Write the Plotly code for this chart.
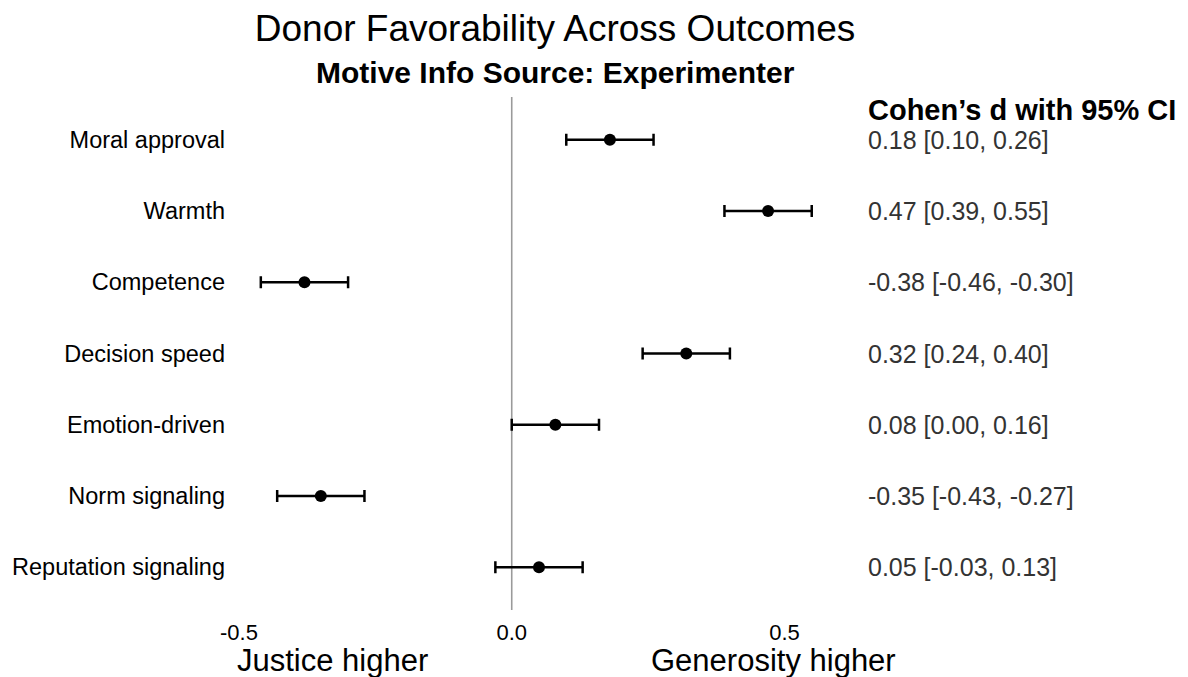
import plotly.graph_objects as go

outcomes = ["Moral approval", "Warmth", "Competence", "Decision speed",
            "Emotion-driven", "Norm signaling", "Reputation signaling"]
d_values = [0.18, 0.47, -0.38, 0.32, 0.08, -0.35, 0.05]
ci_low = [0.10, 0.39, -0.46, 0.24, 0.00, -0.43, -0.03]
ci_high = [0.26, 0.55, -0.30, 0.40, 0.16, -0.27, 0.13]
x_ticks = [-0.5, 0.0, 0.5]
x_tick_labels = ["-0.5", "0.0", "0.5"]

FONT = "Liberation Sans, Arial, Helvetica, sans-serif"

err_plus = [h - d for h, d in zip(ci_high, d_values)]
err_minus = [d - l for d, l in zip(d_values, ci_low)]

fig = go.Figure()
fig.add_trace(go.Scatter(
    x=d_values, y=outcomes, mode="markers",
    marker=dict(color="black", size=12),
    error_x=dict(type="data", symmetric=False, array=err_plus, arrayminus=err_minus,
                 color="black", thickness=2.5, width=6),
    showlegend=False, cliponaxis=False,
))

fig.add_shape(type="line", xref="x", yref="paper", x0=0, x1=0, y0=0, y1=1,
              line=dict(color="#9a9a9a", width=1.6), layer="below")

annotations = []
annotations.append(dict(text="<b>Motive Info Source: Experimenter</b>", xref="paper", yref="paper",
                        x=0.5275, y=1.0487, xanchor="center", yanchor="middle", showarrow=False,
                        font=dict(family=FONT, size=30, color="black")))
annotations.append(dict(text="<b>Cohen’s d with 95% CI</b>", xref="paper", yref="paper",
                        x=1.045, y=0.9747, xanchor="left", yanchor="middle", showarrow=False,
                        font=dict(family=FONT, size=29, color="black")))
for o, d, l, h in zip(outcomes, d_values, ci_low, ci_high):
    annotations.append(dict(text=f"{d:.2f} [{l:.2f}, {h:.2f}]", xref="paper", yref="y",
                            x=1.045, y=o, xanchor="left", yanchor="middle", showarrow=False,
                            font=dict(family=FONT, size=25, color="#333333")))
annotations.append(dict(text="Justice higher", xref="paper", yref="paper",
                        x=0.155, y=-0.0975, xanchor="center", yanchor="middle", showarrow=False,
                        font=dict(family=FONT, size=31, color="black")))
annotations.append(dict(text="Generosity higher", xref="paper", yref="paper",
                        x=0.89, y=-0.0975, xanchor="center", yanchor="middle", showarrow=False,
                        font=dict(family=FONT, size=31, color="black")))

fig.update_layout(
    width=1188, height=677,
    margin=dict(l=239, r=349, t=97, b=67),
    paper_bgcolor="white", plot_bgcolor="white",
    font=dict(family=FONT, color="black"),
    title=dict(text="Donor Favorability Across Outcomes", x=555 / 1188, xanchor="center",
               xref="container", y=1 - 28 / 677, yref="container", yanchor="middle",
               font=dict(family=FONT, size=37, color="black")),
    annotations=annotations,
    xaxis=dict(range=[-0.5, 0.6], tickvals=x_ticks, ticktext=x_tick_labels,
               showgrid=False, zeroline=False, showline=False, ticks="",
               ticklabelstandoff=7,
               tickfont=dict(family=FONT, size=22, color="black")),
    yaxis=dict(range=[6.6, -0.6], showgrid=False, zeroline=False, showline=False,
               ticks="", ticklabelstandoff=13,
               tickfont=dict(family=FONT, size=23.5, color="black")),
)

fig.write_html("out.html", config={"displayModeBar": False},
               post_script="document.body.style.margin='0';")
